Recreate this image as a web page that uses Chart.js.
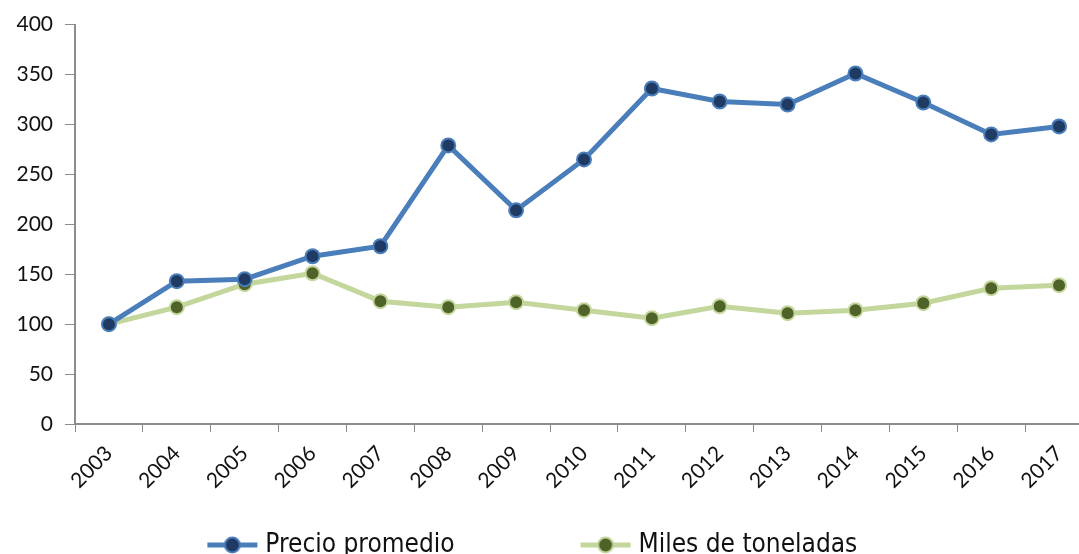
<!DOCTYPE html>
<html>
<head>
<meta charset="utf-8">
<script src="https://cdn.jsdelivr.net/npm/chart.js@4.4.0/dist/chart.umd.min.js"></script>
<style>
  html, body { margin: 0; padding: 0; background: #fff; overflow: hidden; }
  #wrap { width: 1079px; height: 554px; position: relative; overflow: hidden; }
  /* the plot runs past the right edge, as in the original crop */
  #inner { width: 1093px; height: 554px; position: relative; }
</style>
</head>
<body>
<div id="wrap"><div id="inner"><canvas id="line_chart"></canvas></div></div>
<script>
var years = ["2003", "2004", "2005", "2006", "2007", "2008", "2009", "2010",
             "2011", "2012", "2013", "2014", "2015", "2016", "2017"];
var precioPromedio = [100, 143, 145, 168, 178, 279, 214, 265, 336, 323, 320, 351, 322, 290, 298];
var milesToneladas = [100, 117, 140, 151, 123, 117, 122, 114, 106, 118, 111, 114, 121, 136, 139];
var yTicks = [0, 50, 100, 150, 200, 250, 300, 350, 400];

// legend marker: short line with a dot in the middle
function legendMarker(lineColor, dotColor) {
    var c = document.createElement('canvas');
    c.width = 52; c.height = 20;
    var g = c.getContext('2d');
    g.strokeStyle = lineColor;
    g.lineWidth = 5;
    g.beginPath(); g.moveTo(1, 10); g.lineTo(51, 10); g.stroke();
    g.beginPath(); g.arc(26, 10, 7.5, 0, Math.PI * 2);
    g.fillStyle = dotColor; g.fill();
    g.lineWidth = 2; g.strokeStyle = lineColor; g.stroke();
    return c;
}

var axisColor = '#8c8c8c';
// wide gap between the two legend entries
var legendGap = '\u2003\u2003\u2003\u2003\u2002\u2002';
var legendTail = '\u2003';

new Chart(document.getElementById("line_chart").getContext("2d"), {
    type: 'line',
    data: {
        labels: years,
        datasets: [{
            label: "Precio promedio",
            data: precioPromedio,
            borderColor: '#4a7ebb',
            backgroundColor: '#1f3b63',
            borderWidth: 5,
            pointRadius: 7,
            pointBorderWidth: 2,
            pointBorderColor: '#4a7ebb',
            pointBackgroundColor: '#1f3b63',
            tension: 0,
            legendImg: legendMarker('#4a7ebb', '#1f3b63')
        }, {
            label: "Miles de toneladas",
            data: milesToneladas,
            borderColor: '#c3d69b',
            backgroundColor: '#4f6228',
            borderWidth: 5,
            pointRadius: 7,
            pointBorderWidth: 2,
            pointBorderColor: '#c3d69b',
            pointBackgroundColor: '#4f6228',
            tension: 0,
            legendImg: legendMarker('#c3d69b', '#4f6228')
        }]
    },
    options: {
        responsive: true,
        maintainAspectRatio: false,
        animation: false,
        layout: { autoPadding: false, padding: { top: 4, right: 0, left: 0, bottom: -14 } },
        plugins: {
            tooltip: { enabled: false },
            legend: {
                position: 'bottom',
                labels: {
                    usePointStyle: true,
                    pointStyleWidth: 40,
                    padding: 14,
                    color: '#111',
                    font: { family: "'DejaVu Sans Condensed', 'DejaVu Sans'", size: 26 },
                    generateLabels: function (chart) {
                        return chart.data.datasets.map(function (ds, i) {
                            return {
                                text: ds.label + (i === 0 ? legendGap : legendTail),
                                pointStyle: ds.legendImg,
                                fillStyle: ds.backgroundColor,
                                strokeStyle: ds.borderColor,
                                lineWidth: 0,
                                hidden: false,
                                datasetIndex: i,
                                fontColor: '#111'
                            };
                        });
                    }
                }
            }
        },
        scales: {
            x: {
                offset: true,
                afterFit: function (axis) {
                    axis.height = 94;
                },
                grid: {
                    offset: true,
                    drawOnChartArea: false,
                    drawTicks: true,
                    tickLength: 8,
                    color: axisColor
                },
                border: { color: axisColor, width: 2 },
                ticks: {
                    maxRotation: 45,
                    minRotation: 45,
                    color: '#111',
                    padding: 9,
                    font: { family: "Lato", size: 21 }
                }
            },
            y: {
                min: 0,
                max: 400,
                afterBuildTicks: function (axis) {
                    axis.ticks = yTicks.map(function (v) { return { value: v }; });
                },
                afterFit: function (axis) { axis.width = 75; },
                grid: {
                    drawOnChartArea: false,
                    drawTicks: true,
                    tickLength: 10,
                    color: axisColor
                },
                border: { color: axisColor, width: 2 },
                ticks: {
                    color: '#111',
                    padding: 12,
                    font: { family: "Lato", size: 21 }
                }
            }
        }
    }
});
</script>
</body>
</html>
